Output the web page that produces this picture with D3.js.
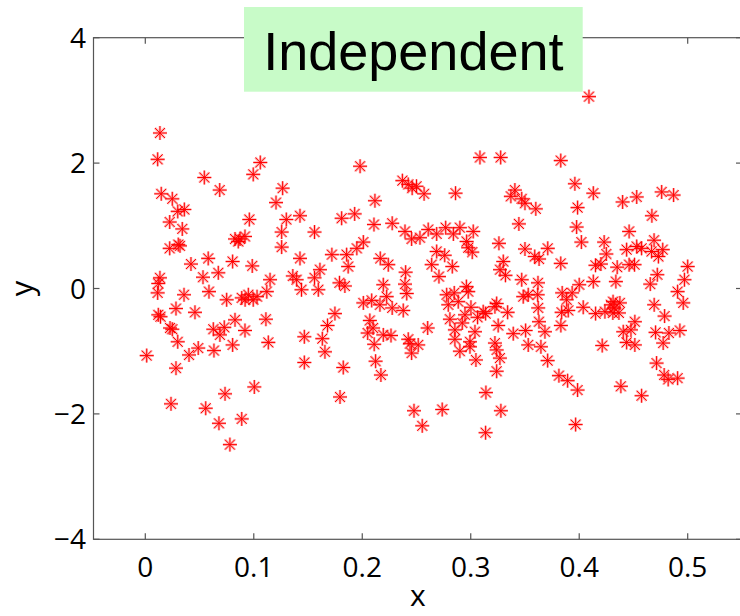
<!DOCTYPE html>
<html>
<head>
<meta charset="utf-8">
<script src="https://cdn.jsdelivr.net/npm/d3@7/dist/d3.min.js"></script>
<style>
  html, body { margin: 0; padding: 0; background: #fff; }
  svg { display: block; }
</style>
</head>
<body>
<svg id="chart" width="740" height="616"></svg>
<script>
// Sample points: independent x and y values
const xValues = [
  0.0135, 0.0114, 0.106, 0.0995, 0.0544, 0.0686, 0.0147, 0.0249, 0.036, 0.0299,
  0.0225, 0.0959, 0.0341, 0.0304, 0.0225, 0.032, 0.0827, 0.0873, 0.0919, 0.0857,
  0.058, 0.0421, 0.0805, 0.0986, 0.0673, 0.0532, 0.0135, 0.012, 0.115, 0.0114,
  0.0357, 0.0587, 0.075, 0.0889, 0.095, 0.0995, 0.112, 0.136, 0.1395, 0.1426,
  0.144, 0.156, 0.161, 0.1595, 0.172, 0.1856, 0.187, 0.156, 0.1257, 0.1257,
  0.130, 0.1426, 0.1205, 0.1266, 0.181, 0.193, 0.198, 0.195, 0.201, 0.179,
  0.184, 0.201, 0.237, 0.2424, 0.246, 0.2117, 0.2108, 0.2276, 0.2394, 0.2455,
  0.2166, 0.224, 0.24, 0.2194, 0.2394, 0.3085, 0.3276, 0.250, 0.257, 0.286,
  0.3407, 0.337, 0.347, 0.350, 0.36, 0.3444, 0.2532, 0.2608, 0.2686, 0.2769,
  0.284, 0.29, 0.3023, 0.2962, 0.2977, 0.3014, 0.326, 0.2686, 0.276, 0.264,
  0.283, 0.2707, 0.33, 0.327, 0.332, 0.35, 0.359, 0.363, 0.371, 0.347,
  0.362, 0.296, 0.409, 0.383, 0.396, 0.413, 0.453, 0.476, 0.487, 0.44,
  0.3985, 0.467, 0.3976, 0.446, 0.402, 0.423, 0.469, 0.453, 0.4575, 0.4437,
  0.4667, 0.477, 0.473, 0.425, 0.383, 0.415, 0.42, 0.435, 0.446, 0.451,
  0.5, 0.472, 0.497, 0.40, 0.413, 0.4338, 0.4655, 0.0120, 0.014, 0.0283,
  0.0458, 0.0228, 0.0249, 0.0299, 0.0013, 0.0403, 0.0488, 0.0283, 0.0633, 0.0627,
  0.0728, 0.0688, 0.0827, 0.0919, 0.0805, 0.1112, 0.1134, 0.1005, 0.0735, 0.0237,
  0.0557, 0.0889, 0.0679, 0.078, 0.092, 0.103, 0.2087, 0.2163, 0.2225, 0.2276,
  0.2378, 0.241, 0.1748, 0.168, 0.1466, 0.1632, 0.1656, 0.1466, 0.1825, 0.1795,
  0.207, 0.205, 0.21, 0.211, 0.2194, 0.2265, 0.2123, 0.2172, 0.2424, 0.244,
  0.2455, 0.2477, 0.2603, 0.2516, 0.2778, 0.2848, 0.2793, 0.2885, 0.2977, 0.3002,
  0.2947, 0.2808, 0.2854, 0.2922, 0.3063, 0.3115, 0.3137, 0.2854, 0.29, 0.2993,
  0.2993, 0.3039, 0.3048, 0.3239, 0.3223, 0.334, 0.3253, 0.3223, 0.3239, 0.3269,
  0.3239, 0.3392, 0.3506, 0.353, 0.3647, 0.3709, 0.3629, 0.3684, 0.3622, 0.353,
  0.3617, 0.3484, 0.314, 0.3278, 0.2737, 0.2553, 0.3137, 0.3843, 0.3935, 0.3884,
  0.3838, 0.3899, 0.3831, 0.4037, 0.4151, 0.4237, 0.4292, 0.4323, 0.4375, 0.4366,
  0.431, 0.4513, 0.4477, 0.4406, 0.4437, 0.4513, 0.4212, 0.4691, 0.4787, 0.4704,
  0.4827, 0.4928, 0.4774, 0.4907, 0.4959, 0.3813, 0.3893, 0.3985, 0.4384, 0.4575,
  0.4713, 0.4783, 0.482, 0.4907, 0.3967, 0.4312
];
const yValues = [
  2.48, 2.06, 2.01, 1.82, 1.77, 1.57, 1.51, 1.43, 1.26, 1.23,
  1.06, 1.10, 0.95, 0.70, 0.64, 0.68, 0.79, 0.79, 0.83, 0.75,
  0.48, 0.39, 0.43, 0.36, 0.25, 0.18, 0.17, 0.08, 0.14, -0.07,
  -0.10, -0.05, -0.18, -0.15, -0.10, -0.18, -0.05, 0.20, 0.14, 0.48,
  -0.02, 0.17, 0.30, -0.02, 0.54, 0.54, 0.35, 0.90, 0.66, 0.90,
  1.10, 1.16, 1.37, 1.60, 1.12, 1.19, 1.95, 0.64, 0.74, 0.09,
  0.04, -0.23, 1.72, 1.66, 1.60, 1.40, 1.02, 1.04, 0.91, 0.79,
  0.48, 0.38, 0.26, 0.06, 0.07, 2.09, 2.09, 1.63, 1.51, 1.52,
  1.57, 1.47, 1.43, 1.36, 1.27, 1.03, 0.81, 0.94, 0.87, 0.97,
  0.87, 0.97, 0.91, 0.75, 0.65, 0.58, 0.72, 0.59, 0.53, 0.38,
  0.35, 0.19, 0.43, 0.30, 0.21, 0.63, 0.51, 0.47, 0.64, 0.14,
  0.09, 0.03, 3.06, 2.04, 1.67, 1.52, 1.46, 1.54, 1.49, 1.38,
  1.29, 1.16, 0.98, 0.91, 0.74, 0.74, 0.77, 0.67, 0.64, 0.62,
  0.59, 0.62, 0.51, 0.55, 0.40, 0.37, 0.39, 0.34, 0.38, 0.38,
  0.35, 0.22, 0.14, 0.06, 0.11, 0.11, 0.07, -0.42, -0.45, -0.32,
  -0.38, -0.63, -0.65, -0.85, -1.07, -1.06, -0.95, -1.27, -0.99, -0.65,
  -0.62, -0.74, -0.50, -0.67, -0.90, -0.49, -0.86, -1.57, -1.68, -1.84,
  -1.91, -2.08, -2.15, -2.49, -0.18, -0.13, -0.19, -0.26, -0.13, -0.31,
  -0.35, -0.08, -0.40, -0.59, -0.77, -0.80, -1.01, -1.18, -1.26, -1.73,
  -0.51, -0.71, -0.63, -0.89, -0.74, -0.75, -1.16, -1.38, -0.81, -0.88,
  -1.03, -1.95, -0.63, -0.90, -0.10, -0.07, -0.26, -0.21, -0.05, -0.30,
  -0.42, -0.49, -0.66, -0.55, -0.46, -0.37, -0.40, -0.81, -1.00, -0.85,
  -0.93, -0.69, -1.14, -0.24, -0.29, -0.38, -0.59, -0.87, -0.98, -1.11,
  -1.32, -0.72, -0.67, -0.90, -0.93, -1.15, -0.53, -0.69, -0.31, -0.10,
  -0.10, -0.13, -1.66, -1.95, -1.93, -2.19, -2.30, -0.07, -0.07, -0.18,
  -0.38, -0.35, -0.59, -0.30, -0.40, -0.37, -0.26, -0.31, -0.23, -0.39,
  -0.39, -0.53, -0.66, -0.69, -0.86, -0.90, -0.91, -0.26, -0.44, -0.70,
  -0.71, -0.67, -0.87, -0.05, -0.23, -1.39, -1.47, -1.62, -1.56, -1.71,
  -1.19, -1.38, -1.45, -1.43, -2.17, -0.21
];
const xTicks = [0, 0.1, 0.2, 0.3, 0.4, 0.5];
const yTicks = [-4, -2, 0, 2, 4];
const titleText = "Independent";
const xLabel = "x";
const yLabel = "y";

const points = xValues.map((x, i) => ({ x, y: yValues[i] }));

const svg = d3.select("#chart");

// Plot frame (axes box)
const frame = { left: 93.5, right: 742, top: 37.7, bottom: 539.3 };

const x = d3.scaleLinear().domain([0, 0.5]).range([145.3, 687.7]);
const y = d3.scaleLinear().domain([-4, 4]).range([frame.bottom, frame.top]);

const tickFont = "'Open Sans', 'DejaVu Sans', sans-serif";
const axisColor = "#555";
const tickLen = 6;

// Box
svg.append("rect")
  .attr("x", frame.left).attr("y", frame.top)
  .attr("width", frame.right - frame.left).attr("height", frame.bottom - frame.top)
  .attr("fill", "none").attr("stroke", axisColor).attr("stroke-width", 1.2);

// Inward ticks on all four sides
const ticksG = svg.append("g").attr("stroke", axisColor).attr("stroke-width", 1.2);
xTicks.forEach(t => {
  const px = x(t);
  ticksG.append("line").attr("x1", px).attr("x2", px).attr("y1", frame.bottom).attr("y2", frame.bottom - tickLen);
  ticksG.append("line").attr("x1", px).attr("x2", px).attr("y1", frame.top).attr("y2", frame.top + tickLen);
});
yTicks.forEach(t => {
  const py = y(t);
  ticksG.append("line").attr("x1", frame.left).attr("x2", frame.left + tickLen).attr("y1", py).attr("y2", py);
  ticksG.append("line").attr("x1", frame.right).attr("x2", frame.right - tickLen).attr("y1", py).attr("y2", py);
});

const fmtX = d => d === 0 ? "0" : d3.format(".1f")(d);
const fmtY = d => (d < 0 ? "\u2212" : "") + Math.abs(d);

svg.append("g").selectAll("text").data(xTicks).join("text")
  .attr("x", d => x(d)).attr("y", 577)
  .attr("text-anchor", "middle")
  .attr("font-family", tickFont).attr("font-size", 28).attr("fill", "#000")
  .text(fmtX);

svg.append("g").selectAll("text").data(yTicks).join("text")
  .attr("x", 86).attr("y", d => y(d))
  .attr("dy", "0.36em")
  .attr("text-anchor", "end")
  .attr("font-family", tickFont).attr("font-size", 28).attr("fill", "#000")
  .text(fmtY);

// Axis labels
svg.append("text")
  .attr("x", (frame.left + frame.right) / 2).attr("y", 606)
  .attr("text-anchor", "middle")
  .attr("font-family", tickFont).attr("font-size", 30).attr("fill", "#000")
  .text(xLabel);

svg.append("text")
  .attr("transform", `translate(33, ${y(0)}) rotate(-90)`)
  .attr("text-anchor", "middle")
  .attr("font-family", tickFont).attr("font-size", 31).attr("fill", "#000")
  .text(yLabel);

// Asterisk markers
const r = 7, dg = 5;
const starPath = `M0,${-r}V${r}M${-r},0H${r}M${-dg},${-dg}L${dg},${dg}M${-dg},${dg}L${dg},${-dg}`;

const marks = svg.append("g");
marks.selectAll("path.halo").data(points).join("path")
  .attr("class", "halo")
  .attr("transform", d => `translate(${x(d.x)},${y(d.y)})`)
  .attr("d", starPath)
  .attr("fill", "none").attr("stroke", "rgba(255,0,0,0.3)").attr("stroke-width", 2.6);
marks.selectAll("path.core").data(points).join("path")
  .attr("class", "core")
  .attr("transform", d => `translate(${x(d.x)},${y(d.y)})`)
  .attr("d", starPath)
  .attr("fill", "none").attr("stroke", "#ff0000").attr("stroke-width", 1);

// Title box
const titleBox = { x0: 244, x1: 582.7, y0: 7, y1: 91.7 };
svg.append("rect")
  .attr("x", titleBox.x0).attr("y", titleBox.y0)
  .attr("width", titleBox.x1 - titleBox.x0).attr("height", titleBox.y1 - titleBox.y0)
  .attr("fill", "#c8fbc8");
svg.append("text")
  .attr("x", (titleBox.x0 + titleBox.x1) / 2).attr("y", 70)
  .attr("text-anchor", "middle")
  .attr("font-family", "'Liberation Sans', Arial, sans-serif")
  .attr("font-size", 54).attr("fill", "#000")
  .text(titleText);
</script>
</body>
</html>
